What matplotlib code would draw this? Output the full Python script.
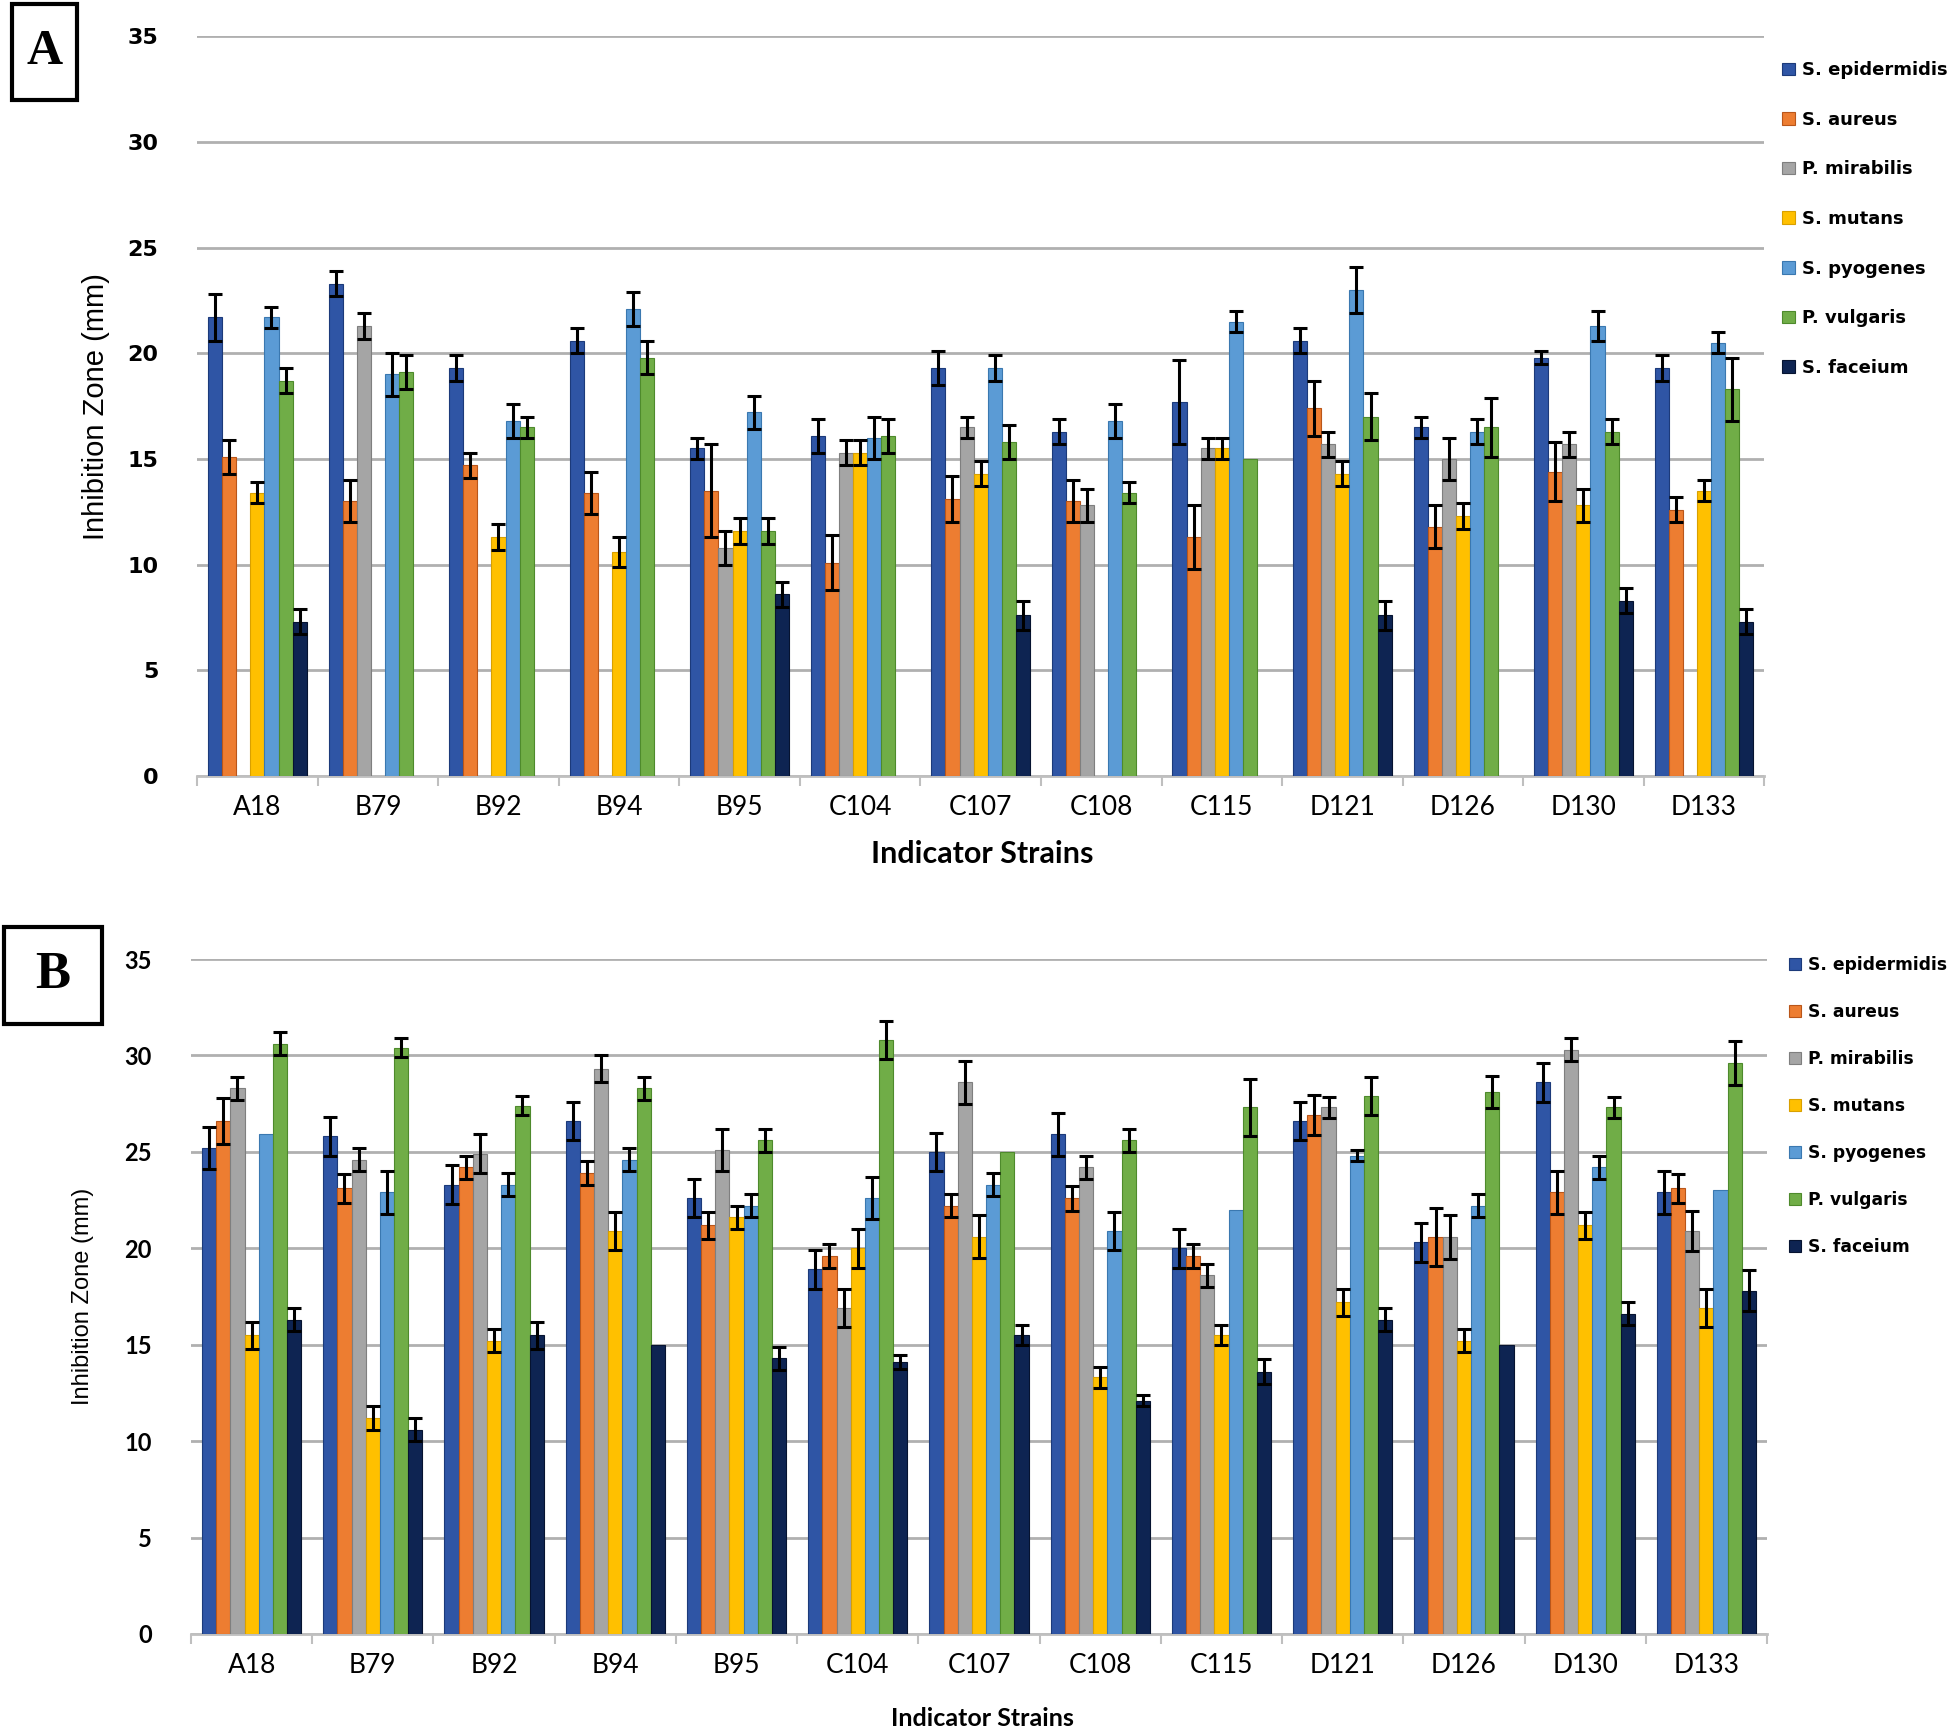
import numpy as np
import matplotlib

matplotlib.use("Agg")
import matplotlib.pyplot as plt
from matplotlib.patches import Rectangle

nan = np.nan

STRAINS = ["A18", "B79", "B92", "B94", "B95", "C104", "C107", "C108",
           "C115", "D121", "D126", "D130", "D133"]
SPECIES = ["S. epidermidis", "S. aureus", "P. mirabilis", "S. mutans",
           "S. pyogenes", "P. vulgaris", "S. faceium"]
COLORS = ["#2F55A5", "#ED7D31", "#A5A5A5", "#FFC000", "#5B9BD5", "#70AD47", "#0E2452"]
EDGES = ["#1C3A7A", "#B9561A", "#7F7F7F", "#D9A000", "#3A78B0", "#4E8A2C", "#061330"]

# panel A: inhibition zone (mm), mean and error
epi_a = [21.7, 23.3, 19.3, 20.6, 15.5, 16.1, 19.3, 16.3, 17.7, 20.6, 16.5, 19.8, 19.3]
epi_a_err = [1.1, 0.6, 0.6, 0.6, 0.5, 0.8, 0.8, 0.6, 2.0, 0.6, 0.5, 0.3, 0.6]
aur_a = [15.1, 13.0, 14.7, 13.4, 13.5, 10.1, 13.1, 13.0, 11.3, 17.4, 11.8, 14.4, 12.6]
aur_a_err = [0.8, 1.0, 0.6, 1.0, 2.2, 1.3, 1.1, 1.0, 1.5, 1.3, 1.0, 1.4, 0.6]
mir_a = [nan, 21.3, nan, nan, 10.8, 15.3, 16.5, 12.8, 15.5, 15.7, 15.0, 15.7, nan]
mir_a_err = [nan, 0.6, nan, nan, 0.8, 0.6, 0.5, 0.8, 0.5, 0.6, 1.0, 0.6, nan]
mut_a = [13.4, nan, 11.3, 10.6, 11.6, 15.3, 14.3, nan, 15.5, 14.3, 12.3, 12.8, 13.5]
mut_a_err = [0.5, nan, 0.6, 0.7, 0.6, 0.6, 0.6, nan, 0.5, 0.6, 0.6, 0.8, 0.5]
pyo_a = [21.7, 19.0, 16.8, 22.1, 17.2, 16.0, 19.3, 16.8, 21.5, 23.0, 16.3, 21.3, 20.5]
pyo_a_err = [0.5, 1.0, 0.8, 0.8, 0.8, 1.0, 0.6, 0.8, 0.5, 1.1, 0.6, 0.7, 0.5]
vul_a = [18.7, 19.1, 16.5, 19.8, 11.6, 16.1, 15.8, 13.4, 15.0, 17.0, 16.5, 16.3, 18.3]
vul_a_err = [0.6, 0.8, 0.5, 0.8, 0.6, 0.8, 0.8, 0.5, nan, 1.1, 1.4, 0.6, 1.5]
fac_a = [7.3, nan, nan, nan, 8.6, nan, 7.6, nan, nan, 7.6, nan, 8.3, 7.3]
fac_a_err = [0.6, nan, nan, nan, 0.6, nan, 0.7, nan, nan, 0.7, nan, 0.6, 0.6]

# panel B
epi_b = [25.2, 25.8, 23.3, 26.6, 22.6, 18.9, 25.0, 25.9, 20.0, 26.6, 20.3, 28.6, 22.9]
epi_b_err = [1.1, 1.0, 1.0, 1.0, 1.0, 1.0, 1.0, 1.1, 1.0, 1.0, 1.0, 1.0, 1.1]
aur_b = [26.6, 23.1, 24.2, 23.9, 21.2, 19.6, 22.2, 22.6, 19.6, 26.9, 20.6, 22.9, 23.1]
aur_b_err = [1.2, 0.75, 0.6, 0.6, 0.7, 0.6, 0.6, 0.65, 0.6, 1.05, 1.5, 1.1, 0.75]
mir_b = [28.3, 24.6, 24.9, 29.3, 25.1, 16.9, 28.6, 24.2, 18.6, 27.3, 20.6, 30.3, 20.9]
mir_b_err = [0.6, 0.6, 1.0, 0.7, 1.1, 1.0, 1.1, 0.6, 0.6, 0.55, 1.15, 0.6, 1.05]
mut_b = [15.5, 11.2, 15.2, 20.9, 21.6, 20.0, 20.6, 13.3, 15.5, 17.2, 15.2, 21.2, 16.9]
mut_b_err = [0.7, 0.6, 0.6, 1.0, 0.6, 1.0, 1.1, 0.55, 0.5, 0.7, 0.6, 0.7, 1.0]
pyo_b = [25.9, 22.9, 23.3, 24.6, 22.2, 22.6, 23.3, 20.9, 22.0, 24.8, 22.2, 24.2, 23.0]
pyo_b_err = [nan, 1.1, 0.6, 0.6, 0.6, 1.1, 0.6, 1.0, nan, 0.3, 0.6, 0.6, nan]
vul_b = [30.6, 30.4, 27.4, 28.3, 25.6, 30.8, 25.0, 25.6, 27.3, 27.9, 28.1, 27.3, 29.6]
vul_b_err = [0.6, 0.5, 0.5, 0.6, 0.6, 1.0, nan, 0.6, 1.5, 1.0, 0.85, 0.55, 1.15]
fac_b = [16.3, 10.6, 15.5, 15.0, 14.3, 14.1, 15.5, 12.1, 13.6, 16.3, 15.0, 16.6, 17.8]
fac_b_err = [0.6, 0.6, 0.7, nan, 0.6, 0.35, 0.5, 0.3, 0.65, 0.6, nan, 0.6, 1.05]

A_VALS = [epi_a, aur_a, mir_a, mut_a, pyo_a, vul_a, fac_a]
A_ERRS = [epi_a_err, aur_a_err, mir_a_err, mut_a_err, pyo_a_err, vul_a_err, fac_a_err]
B_VALS = [epi_b, aur_b, mir_b, mut_b, pyo_b, vul_b, fac_b]
B_ERRS = [epi_b_err, aur_b_err, mir_b_err, mut_b_err, pyo_b_err, vul_b_err, fac_b_err]

NARROW = ["Lato", "DejaVu Sans"]
W = 0.117

fig = plt.figure(figsize=(19.59, 17.32), dpi=100)


def panel(rect, vals, errs, tick_kw, ylab_kw, leg_anchor, leg_size, leg_gap):
    ax = fig.add_axes(rect)
    x = np.arange(len(STRAINS))
    for i, (v, e) in enumerate(zip(vals, errs)):
        v = np.array(v, float)
        e = np.array(e, float)
        pos = x + (i - 3) * W
        ok = ~np.isnan(v)
        ax.bar(pos[ok], v[ok], W, color=COLORS[i], edgecolor=EDGES[i], lw=0.8,
               label=SPECIES[i], zorder=3)
        ke = ok & ~np.isnan(e)
        ax.errorbar(pos[ke], v[ke], yerr=e[ke], fmt="none", ecolor="black",
                    elinewidth=2.2, capsize=5, capthick=2.2, zorder=4)
    ax.set_xlim(-0.5, len(STRAINS) - 0.5)
    ax.set_ylim(0, 35)
    ax.set_yticks(np.arange(0, 36, 5))
    ax.yaxis.grid(True, color="#B0B0B0", lw=2, zorder=0)
    ax.set_axisbelow(True)
    for s in ["top", "right", "left"]:
        ax.spines[s].set_visible(False)
    ax.spines["bottom"].set_color("#BFBFBF")
    ax.spines["bottom"].set_linewidth(2)
    ax.set_xticks(x)
    ax.set_xticklabels(STRAINS, family=NARROW, fontsize=19)
    ax.set_xticks(np.arange(-0.5, len(STRAINS)), minor=True)
    ax.tick_params(axis="x", which="major", length=0, pad=14)
    ax.tick_params(axis="x", which="minor", length=7, width=1.5, color="#BFBFBF")
    ax.tick_params(axis="y", length=0, pad=28)
    for t in ax.get_yticklabels():
        t.set(**tick_kw)
    ax.set_ylabel("Inhibition Zone (mm)", **ylab_kw)
    fig.legend(*ax.get_legend_handles_labels(), loc="upper left",
               bbox_to_anchor=leg_anchor, bbox_transform=fig.transFigure,
               frameon=False, handlelength=0.7, handleheight=0.7,
               handletextpad=0.4, labelspacing=leg_gap,
               prop={"family": "DejaVu Sans", "weight": "bold", "size": leg_size})
    return ax


panel([0.1006, 0.552, 0.800, 0.427], A_VALS, A_ERRS,
      dict(family="DejaVu Sans", weight="bold", fontsize=16),
      dict(family=["Liberation Sans", "DejaVu Sans"], fontsize=21, labelpad=12),
      (0.9015, 0.974), 13, 1.75)
fig.text(0.5015, 1 - 854 / 1732, "Indicator Strains", ha="center", va="center",
         family=NARROW, weight="bold", fontsize=22)

panel([0.0975, 0.0566, 0.8045, 0.3897], B_VALS, B_ERRS,
      dict(family=NARROW, weight="bold", fontsize=17),
      dict(family=["Liberation Sans", "DejaVu Sans"], fontsize=17, labelpad=22),
      (0.9055, 0.457), 12.3, 1.7)
fig.text(0.5015, 1 - 1719 / 1732, "Indicator Strains", ha="center", va="center",
         family=NARROW, weight="bold", fontsize=18)

# panel letters in boxes
for (x0, y0, w, h), letter, fs in [((12, 4, 65, 96), "A", 36), ((4, 927, 98, 97), "B", 38)]:
    fig.patches.append(Rectangle((x0 / 1959, 1 - (y0 + h) / 1732), w / 1959, h / 1732,
                                 transform=fig.transFigure, fill=False, lw=3,
                                 edgecolor="black"))
    fig.text((x0 + w / 2) / 1959, 1 - (y0 + h / 2) / 1732, letter, ha="center",
             va="center", family="Liberation Serif", weight="bold", fontsize=fs)

fig.savefig("out.png", dpi=100, facecolor="white")
